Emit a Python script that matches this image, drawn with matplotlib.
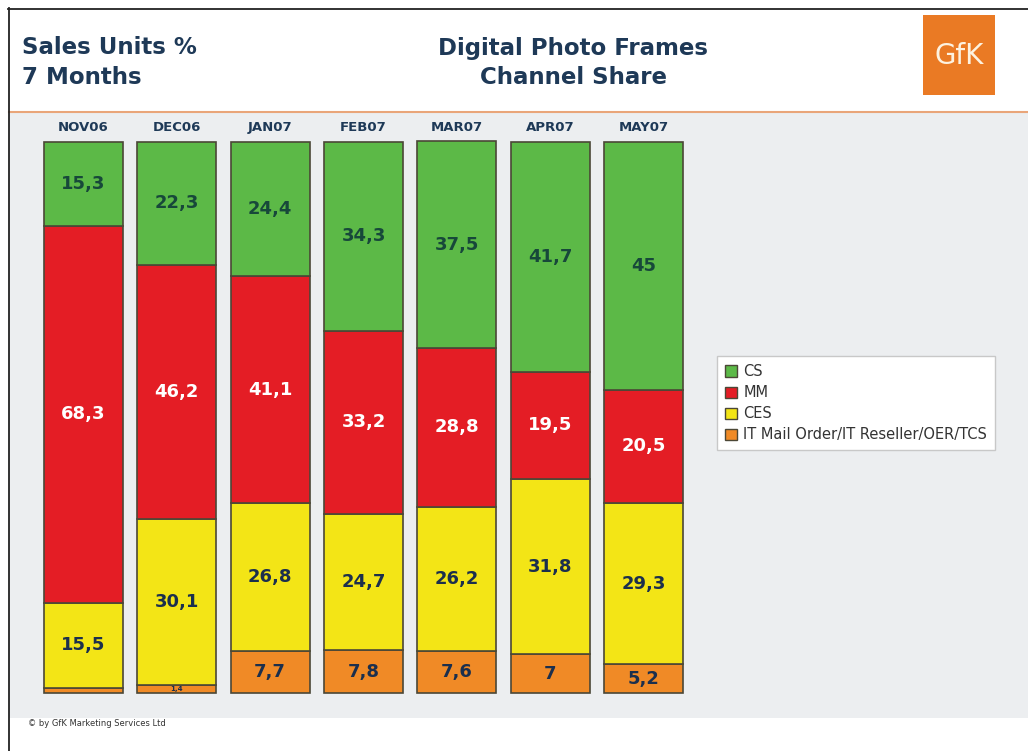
import matplotlib
matplotlib.use("Agg")
import matplotlib.pyplot as plt
from matplotlib.patches import Rectangle, Patch
from matplotlib.lines import Line2D

# channel share data (sales units %)
months = ["NOV06", "DEC06", "JAN07", "FEB07", "MAR07", "APR07", "MAY07"]
cs = [15.3, 22.3, 24.4, 34.3, 37.5, 41.7, 45]
mm = [68.3, 46.2, 41.1, 33.2, 28.8, 19.5, 20.5]
ces = [15.5, 30.1, 26.8, 24.7, 26.2, 31.8, 29.3]
it_mail = [0.9, 1.4, 7.7, 7.8, 7.6, 7.0, 5.2]

series_names = ["CS", "MM", "CES", "IT Mail Order/IT Reseller/OER/TCS"]
colors = {"CS": "#5cb947", "MM": "#e41d25", "CES": "#f3e516",
          "IT Mail Order/IT Reseller/OER/TCS": "#f08a26"}
label_colors = {"CS": "#17483a", "MM": "white", "CES": "#1b2f4d",
                "IT Mail Order/IT Reseller/OER/TCS": "#1b2f4d"}

W, H = 1028, 751
fig = plt.figure(figsize=(W / 100, H / 100), dpi=100)
fig.patch.set_facecolor("white")

def fx(px):
    return px / W

def fy(py):
    return 1 - py / H

# page frame, header line and grey chart area
fig.add_artist(Rectangle((fx(9), fy(718)), 1 - fx(9), fy(113) - fy(718),
                         transform=fig.transFigure, facecolor="#eceef0",
                         edgecolor="none", zorder=0))
fig.add_artist(Line2D([fx(9), 1], [fy(112), fy(112)], transform=fig.transFigure,
                      color="#e9a579", lw=1.5))
fig.add_artist(Line2D([fx(8), 1], [fy(8.5), fy(8.5)], transform=fig.transFigure,
                      color="#222222", lw=1.3))
fig.add_artist(Line2D([fx(8.5), fx(8.5)], [fy(8), 0], transform=fig.transFigure,
                      color="#222222", lw=1.3))

# titles
title_col = "#1e3957"
fig.text(fx(22), fy(48), "Sales Units %", fontsize=16.5, fontweight="bold",
         color=title_col, va="center", ha="left")
fig.text(fx(22), fy(77), "7 Months", fontsize=16.5, fontweight="bold",
         color=title_col, va="center", ha="left")
fig.text(fx(573), fy(48), "Digital Photo Frames", fontsize=16.5, fontweight="bold",
         color=title_col, va="center", ha="center")
fig.text(fx(573), fy(77), "Channel Share", fontsize=16.5, fontweight="bold",
         color=title_col, va="center", ha="center")

# GfK logo
fig.add_artist(Rectangle((fx(923), fy(95)), fx(995) - fx(923), fy(15) - fy(95),
                         transform=fig.transFigure, facecolor="#ea7a24",
                         edgecolor="none"))
fig.text(fx(959), fy(56), "GfK", fontsize=20, color="#fdf2e0",
         ha="center", va="center")

# footer
fig.text(fx(28), fy(724), "\u00a9 by GfK Marketing Services Ltd", fontsize=6,
         color="#333333", ha="left", va="center")

# stacked bars
slot = 93.4
ax = fig.add_axes([fx(36.6), fy(693), fx(slot * 7), fy(142) - fy(693)])
ax.set_facecolor("none")
ax.set_xlim(-0.5, 6.5)
ax.set_ylim(0, 100)

x = list(range(len(months)))
stack = [("IT Mail Order/IT Reseller/OER/TCS", it_mail), ("CES", ces),
         ("MM", mm), ("CS", cs)]
bottom = [0.0] * len(months)
for name, vals in stack:
    bars = ax.bar(x, vals, bottom=bottom, width=0.846, color=colors[name],
                  edgecolor="#4b4736", linewidth=1.2, label=name)
    for b in bars:
        b.set_clip_on(False)
    for i, v in enumerate(vals):
        if v < 1:
            continue
        txt = f"{v:g}".replace(".", ",")
        size = 13 if v >= 3 else 5
        ax.text(i, bottom[i] + v / 2, txt, ha="center", va="center",
                fontsize=size, fontweight="bold", color=label_colors[name])
    bottom = [b + v for b, v in zip(bottom, vals)]

ax.set_xticks(x)
ax.set_xticklabels(months, fontsize=9.5, fontweight="bold", color=title_col)
ax.xaxis.set_ticks_position("top")
ax.tick_params(axis="x", length=0, pad=6)
ax.set_yticks([])
for s in ax.spines.values():
    s.set_visible(False)

# legend
leg_handles = [Patch(facecolor=colors[n], edgecolor="#4b4736", lw=1.0)
               for n in series_names]
leg = fig.legend(leg_handles, series_names, loc="upper left",
                 bbox_to_anchor=(fx(717), fy(356)), frameon=True, fancybox=False,
                 edgecolor="#c8c8c8", facecolor="white", framealpha=1,
                 fontsize=10.5, handlelength=0.8, handleheight=0.8,
                 handletextpad=0.45, labelspacing=0.42, borderpad=0.55,
                 borderaxespad=0)
for t in leg.get_texts():
    t.set_color("#333333")
leg.get_frame().set_linewidth(1.0)

fig.savefig("out.png", dpi=100)
